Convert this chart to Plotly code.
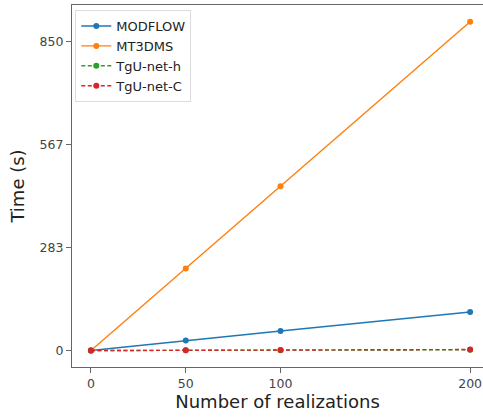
import plotly.graph_objects as go

realizations = [0, 50, 100, 200]
modflow = [0, 27.5, 54, 106]
mt3dms = [0, 226, 452, 905]
tgu_h = [0, 0.5, 1.0, 2.0]
tgu_c = [0, 0.7, 1.4, 2.8]

ytick_vals = [0, 850 / 3, 2 * 850 / 3, 850]
ytick_text = ["0", "283", "567", "850"]
xtick_vals = [0, 50, 100, 200]

series = [
    ("MODFLOW", modflow, "#1f77b4", "solid"),
    ("MT3DMS", mt3dms, "#ff7f0e", "solid"),
    ("TgU-net-h", tgu_h, "#2ca02c", "4px,2.5px"),
    ("TgU-net-C", tgu_c, "#d62728", "4px,2.5px"),
]

fig = go.Figure()
for name, vals, color, dash in series:
    fig.add_trace(go.Scatter(
        x=realizations, y=vals, name=name, mode="lines+markers",
        line=dict(color=color, width=1.4, dash=dash),
        marker=dict(color=color, size=6),
    ))

font_family = "DejaVu Sans"
fig.update_layout(
    width=483, height=417,
    margin=dict(l=72, r=0, t=5, b=50),
    paper_bgcolor="white", plot_bgcolor="white",
    font=dict(family=font_family, color="#333"),
    showlegend=True,
    legend=dict(
        x=0.008, y=0.986, xanchor="left", yanchor="top",
        bgcolor="rgba(255,255,255,0.8)", bordercolor="#dddddd", borderwidth=1,
        font=dict(size=13, family=font_family, color="#222"),
    ),
    xaxis=dict(
        range=[-10, 206.8], tickvals=xtick_vals, ticktext=[str(v) for v in xtick_vals],
        showgrid=False, zeroline=False, showline=True, linecolor="#666", linewidth=1.2,
        mirror=True, ticks="outside", ticklen=5, tickcolor="#666",
        tickfont=dict(size=12.5, color="#444"),
        title=dict(text="Number of realizations", font=dict(size=18, color="#222"), standoff=3),
        automargin=False,
    ),
    yaxis=dict(
        range=[-45.3, 951.3], tickvals=ytick_vals, ticktext=ytick_text,
        showgrid=False, zeroline=False, showline=True, linecolor="#666", linewidth=1.2,
        ticks="outside", ticklen=5, tickcolor="#666",
        tickfont=dict(size=12.5, color="#444"),
        title=dict(text="Time (s)", font=dict(size=18, color="#222"), standoff=10),
        automargin=False,
    ),
)

fig.write_html("out.html")
